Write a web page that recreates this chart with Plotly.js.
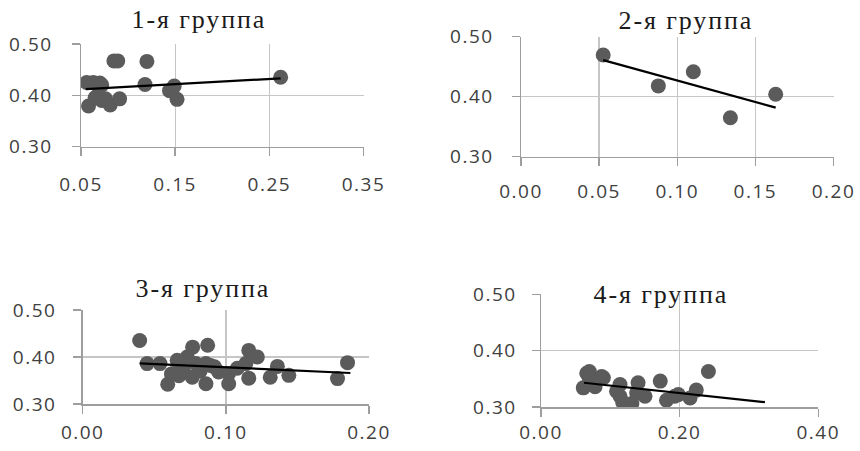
<!DOCTYPE html>
<html>
<head>
<meta charset="utf-8">
<script src="https://cdn.plot.ly/plotly-3.0.1.min.js"></script>
<style>
html,body{margin:0;padding:0;background:#fff;}
#chart{width:860px;height:451px;}
#chart .annotation-text{letter-spacing:1.9px;}
#chart .xaxislayer-above text,#chart .yaxislayer-above text{letter-spacing:1.5px;}
</style>
</head>
<body>
<div id="chart"></div>
<script>
// ---- data ----
const titles = ["1-я группа", "2-я группа", "3-я группа", "4-я группа"];

const g1x = [0.056, 0.063, 0.070, 0.072, 0.058, 0.065, 0.068, 0.072, 0.076, 0.081, 0.085, 0.089, 0.091, 0.120, 0.118, 0.144, 0.149, 0.152, 0.262];
const g1y = [0.425, 0.425, 0.424, 0.420, 0.379, 0.395, 0.400, 0.390, 0.393, 0.381, 0.467, 0.467, 0.393, 0.466, 0.421, 0.409, 0.418, 0.392, 0.435];
const t1x = [0.055, 0.262];
const t1y = [0.412, 0.433];

const g2x = [0.0526, 0.0879, 0.1103, 0.134, 0.163];
const g2y = [0.4695, 0.418, 0.4417, 0.365, 0.404];
const t2x = [0.0526, 0.163];
const t2y = [0.461, 0.3817];

const g3x = [0.0398, 0.045, 0.054, 0.0594, 0.062, 0.0634, 0.066, 0.0672, 0.0703, 0.073, 0.0765, 0.0768, 0.079, 0.082, 0.0861, 0.0861, 0.0873, 0.0893, 0.092, 0.095, 0.102, 0.102, 0.108, 0.114, 0.116, 0.116, 0.122, 0.131, 0.136, 0.144, 0.178, 0.185];
const g3y = [0.435, 0.386, 0.386, 0.342, 0.364, 0.365, 0.393, 0.360, 0.372, 0.400, 0.357, 0.421, 0.386, 0.370, 0.343, 0.386, 0.425, 0.382, 0.379, 0.368, 0.343, 0.365, 0.376, 0.386, 0.414, 0.355, 0.400, 0.357, 0.380, 0.361, 0.354, 0.388];
const t3x = [0.0398, 0.187];
const t3y = [0.3866, 0.366];

const g4x = [0.061, 0.066, 0.0697, 0.070, 0.078, 0.0875, 0.090, 0.109, 0.114, 0.114, 0.118, 0.131, 0.138, 0.140, 0.150, 0.172, 0.181, 0.193, 0.198, 0.215, 0.224, 0.2415];
const g4y = [0.334, 0.360, 0.363, 0.349, 0.336, 0.354, 0.352, 0.328, 0.340, 0.319, 0.308, 0.306, 0.325, 0.343, 0.319, 0.346, 0.312, 0.319, 0.322, 0.316, 0.330, 0.363];
const t4x = [0.062, 0.323];
const t4y = [0.343, 0.3085];

const xRanges = [[0.05, 0.35], [0, 0.20], [0, 0.20], [0, 0.40]];
const xDticks = [0.1, 0.05, 0.1, 0.2];
const xTick0 = [0.05, 0, 0, 0];

// ---- build ----
const groups = [[g1x, g1y, t1x, t1y], [g2x, g2y, t2x, t2y], [g3x, g3y, t3x, t3y], [g4x, g4y, t4x, t4y]];
const traces = [];
groups.forEach((g, i) => {
  const xa = i === 0 ? 'x' : 'x' + (i + 1);
  const ya = i === 0 ? 'y' : 'y' + (i + 1);
  traces.push({x: g[0], y: g[1], xaxis: xa, yaxis: ya, type: 'scatter', mode: 'markers',
    marker: {color: '#5b5b5b', size: 15}, hoverinfo: 'x+y', showlegend: false});
  traces.push({x: g[2], y: g[3], xaxis: xa, yaxis: ya, type: 'scatter', mode: 'lines',
    line: {color: '#000000', width: 2.2}, hoverinfo: 'skip', showlegend: false});
});

const W = 860, H = 451;
// plot area pixel boxes [left, right, top, bottom]
const boxes = [[81, 363.5, 44, 146.5], [521, 833.5, 36.7, 156.7], [82.7, 369, 310, 404], [541, 818.3, 294.3, 407]];
const xStand = [12, 9, 3, 0];
const yStand = [15, 14, 13, 11];
const tickFont = {family: 'Open Sans, Liberation Sans, sans-serif', size: 19, color: '#404040'};
const layout = {
  width: W, height: H, margin: {l: 0, r: 0, t: 0, b: 0},
  paper_bgcolor: '#ffffff', plot_bgcolor: '#ffffff', showlegend: false,
  annotations: []
};
const titlePos = [[198.5, 19.5], [686, 21], [203, 288], [661, 294.5]];
boxes.forEach((b, i) => {
  const sx = i === 0 ? '' : String(i + 1);
  layout['xaxis' + sx] = {
    domain: [b[0] / W, b[1] / W], anchor: 'y' + sx, range: xRanges[i],
    tick0: xTick0[i], dtick: xDticks[i], tickformat: '.2f',
    showgrid: true, gridcolor: '#c6c6c6', gridwidth: 1.3,
    showline: true, linecolor: '#9e9e9e', linewidth: 1.5,
    ticks: 'outside', ticklen: 8, tickcolor: '#9e9e9e', tickwidth: 1.5,
    ticklabelstandoff: xStand[i], zeroline: false, tickfont: tickFont, fixedrange: true
  };
  layout['yaxis' + sx] = {
    domain: [1 - b[3] / H, 1 - b[2] / H], anchor: 'x' + sx, range: [0.3, 0.5],
    tick0: 0.3, dtick: 0.1, tickformat: '.2f',
    showgrid: true, gridcolor: '#c6c6c6', gridwidth: 1.3,
    showline: true, linecolor: '#9e9e9e', linewidth: 1.5,
    ticks: 'outside', ticklen: 8, tickcolor: '#9e9e9e', tickwidth: 1.5,
    ticklabelstandoff: yStand[i], zeroline: false, tickfont: tickFont, fixedrange: true
  };
  layout.annotations.push({
    text: titles[i], xref: 'paper', yref: 'paper',
    x: titlePos[i][0] / W, y: 1 - titlePos[i][1] / H, xanchor: 'center', yanchor: 'middle',
    showarrow: false, font: {family: 'Liberation Serif, Times New Roman, serif', size: 26, color: '#1a1a1a'}
  });
});

Plotly.newPlot('chart', traces, layout, {displayModeBar: false, staticPlot: true});
</script>
</body>
</html>
